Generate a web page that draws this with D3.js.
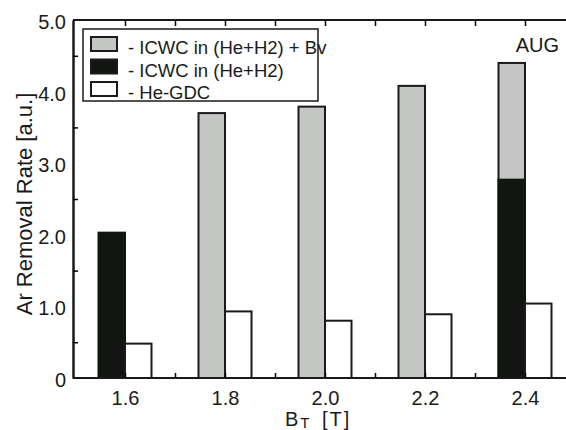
<!DOCTYPE html>
<html>
<head>
<meta charset="utf-8">
<script src="https://cdn.jsdelivr.net/npm/d3@7"></script>
<style>
  body { margin: 0; background: #fff; }
  text { font-family: "Liberation Sans", Arial, sans-serif; fill: #1a1a1a; }
</style>
</head>
<body>
<div id="chart"></div>
<script>
// magnetic field values (T)
const bt = [1.6, 1.8, 2.0, 2.2, 2.4];
// ICWC in (He+H2) + Bv  (total height)
const icwcBv = [null, 3.70, 3.79, 4.08, 4.40];
// ICWC in (He+H2)
const icwc = [2.03, null, null, null, 2.77];
// He-GDC
const heGdc = [0.48, 0.93, 0.80, 0.89, 1.04];

const yLabels = [0, 1, 2, 3, 4, 5];
const legendLabels = ["- ICWC in (He+H2) + Bv", "- ICWC in (He+H2)", "- He-GDC"];

const width = 566, height = 430,
      margin = { top: 20, right: 0, bottom: 52, left: 73 };

const grey = "#c4c6c4", black = "#131513", ink = "#1a1a1a";
const barW = 0.053;

const svg = d3.select("#chart")
    .append("svg")
    .attr("width", width)
    .attr("height", height);

let x = d3.scaleLinear()
    .domain([1.6, 2.4])
    .range([125, 525]);

let y = d3.scaleLinear()
    .domain([0, 5])
    .range([height - margin.bottom, margin.top]);

// bars
let rows = bt.map((b, i) => ({ b, bv: icwcBv[i], ic: icwc[i], gdc: heGdc[i] }));

let bar = svg.selectAll(".bar")
    .data(rows)
    .join("g")
    .attr("class", "bar")
    .attr("stroke", ink)
    .attr("stroke-width", 2);

bar.filter(d => d.bv != null).append("rect")
    .attr("fill", grey)
    .attr("x", d => x(d.b - barW))
    .attr("width", d => x(d.b) - x(d.b - barW))
    .attr("y", d => y(d.bv))
    .attr("height", d => y(0) - y(d.bv));

bar.filter(d => d.ic != null).append("rect")
    .attr("fill", black)
    .attr("stroke", black)
    .attr("x", d => x(d.b - barW))
    .attr("width", d => x(d.b) - x(d.b - barW))
    .attr("y", d => y(d.ic))
    .attr("height", d => y(0) - y(d.ic));

bar.append("rect")
    .attr("fill", "#fff")
    .attr("x", d => x(d.b))
    .attr("width", d => x(d.b + barW) - x(d.b))
    .attr("y", d => y(d.gdc))
    .attr("height", d => y(0) - y(d.gdc));

// axes
const tenths = d3.range(15, 25).map(v => v / 10);

svg.append("g")
    .attr("transform", `translate(0,${y(0)})`)
    .call(d3.axisBottom(x)
        .tickValues(tenths.filter(v => v >= 1.6))
        .tickSizeInner(-5).tickSizeOuter(0)
        .tickPadding(13)
        .tickFormat(v => Math.round(v * 10) % 2 === 0 ? d3.format(".1f")(v) : ""))
    .call(g => g.select(".domain").attr("d", `M${margin.left},0H${width}`))
    .call(g => g.selectAll("line").attr("stroke-width", 1.5))
    .call(g => g.selectAll("text").attr("font-size", 20).attr("font-family", null));

svg.append("g")
    .attr("transform", `translate(0,${y(5)})`)
    .call(d3.axisTop(x)
        .tickValues(tenths.filter(v => v > 1.5))
        .tickSizeInner(-6).tickSizeOuter(0)
        .tickFormat(""))
    .call(g => g.select(".domain").attr("d", `M${margin.left},0H${width}`))
    .call(g => g.selectAll("line").attr("stroke-width", 1.5));

svg.append("g")
    .attr("transform", `translate(${margin.left},0)`)
    .call(d3.axisLeft(y)
        .tickValues(yLabels)
        .tickSize(0)
        .tickPadding(7)
        .tickFormat(v => v === 0 ? "0" : d3.format(".1f")(v)))
    .call(g => g.selectAll("text").attr("font-size", 20).attr("font-family", null).attr("dy", "0.42em"));

svg.append("g")
    .attr("transform", `translate(${margin.left},0)`)
    .call(d3.axisLeft(y)
        .tickValues(d3.range(0.5, 5, 1))
        .tickSizeInner(-5).tickSizeOuter(0)
        .tickFormat(""))
    .call(g => g.selectAll("line").attr("stroke-width", 1.5));

svg.selectAll(".domain").attr("stroke", ink).attr("stroke-width", 2);

// axis titles
svg.append("text")
    .attr("transform", "rotate(-90)")
    .attr("x", -204)
    .attr("y", 32)
    .attr("text-anchor", "middle")
    .attr("font-size", 22)
    .text("Ar Removal Rate [a.u.]");

let xt = svg.append("text")
    .attr("x", 285)
    .attr("y", 426)
    .attr("font-size", 20);
xt.append("tspan").text("B");
xt.append("tspan").attr("dx", 2).attr("dy", 2).attr("font-size", 15).text("T");
xt.append("tspan").attr("x", 322).attr("dy", -2).attr("letter-spacing", 2).text("[T]");

svg.append("text")
    .attr("x", 559)
    .attr("y", 52)
    .attr("text-anchor", "end")
    .attr("font-size", 20)
    .text("AUG");

// legend
let legend = svg.append("g");
legend.append("rect")
    .attr("x", 83).attr("y", 29)
    .attr("width", 235).attr("height", 72)
    .attr("fill", "#fff")
    .attr("stroke", ink)
    .attr("stroke-width", 1.5);

const swatchFill = [grey, black, "#fff"];
legendLabels.forEach((lab, i) => {
    let ly = 37 + i * 22.5;
    legend.append("rect")
        .attr("x", 91).attr("y", ly)
        .attr("width", 26).attr("height", 14)
        .attr("fill", swatchFill[i])
        .attr("stroke", ink)
        .attr("stroke-width", 2);
    legend.append("text")
        .attr("x", 128).attr("y", ly + 17)
        .attr("font-size", 18.5)
        .text(lab);
});
</script>
</body>
</html>
